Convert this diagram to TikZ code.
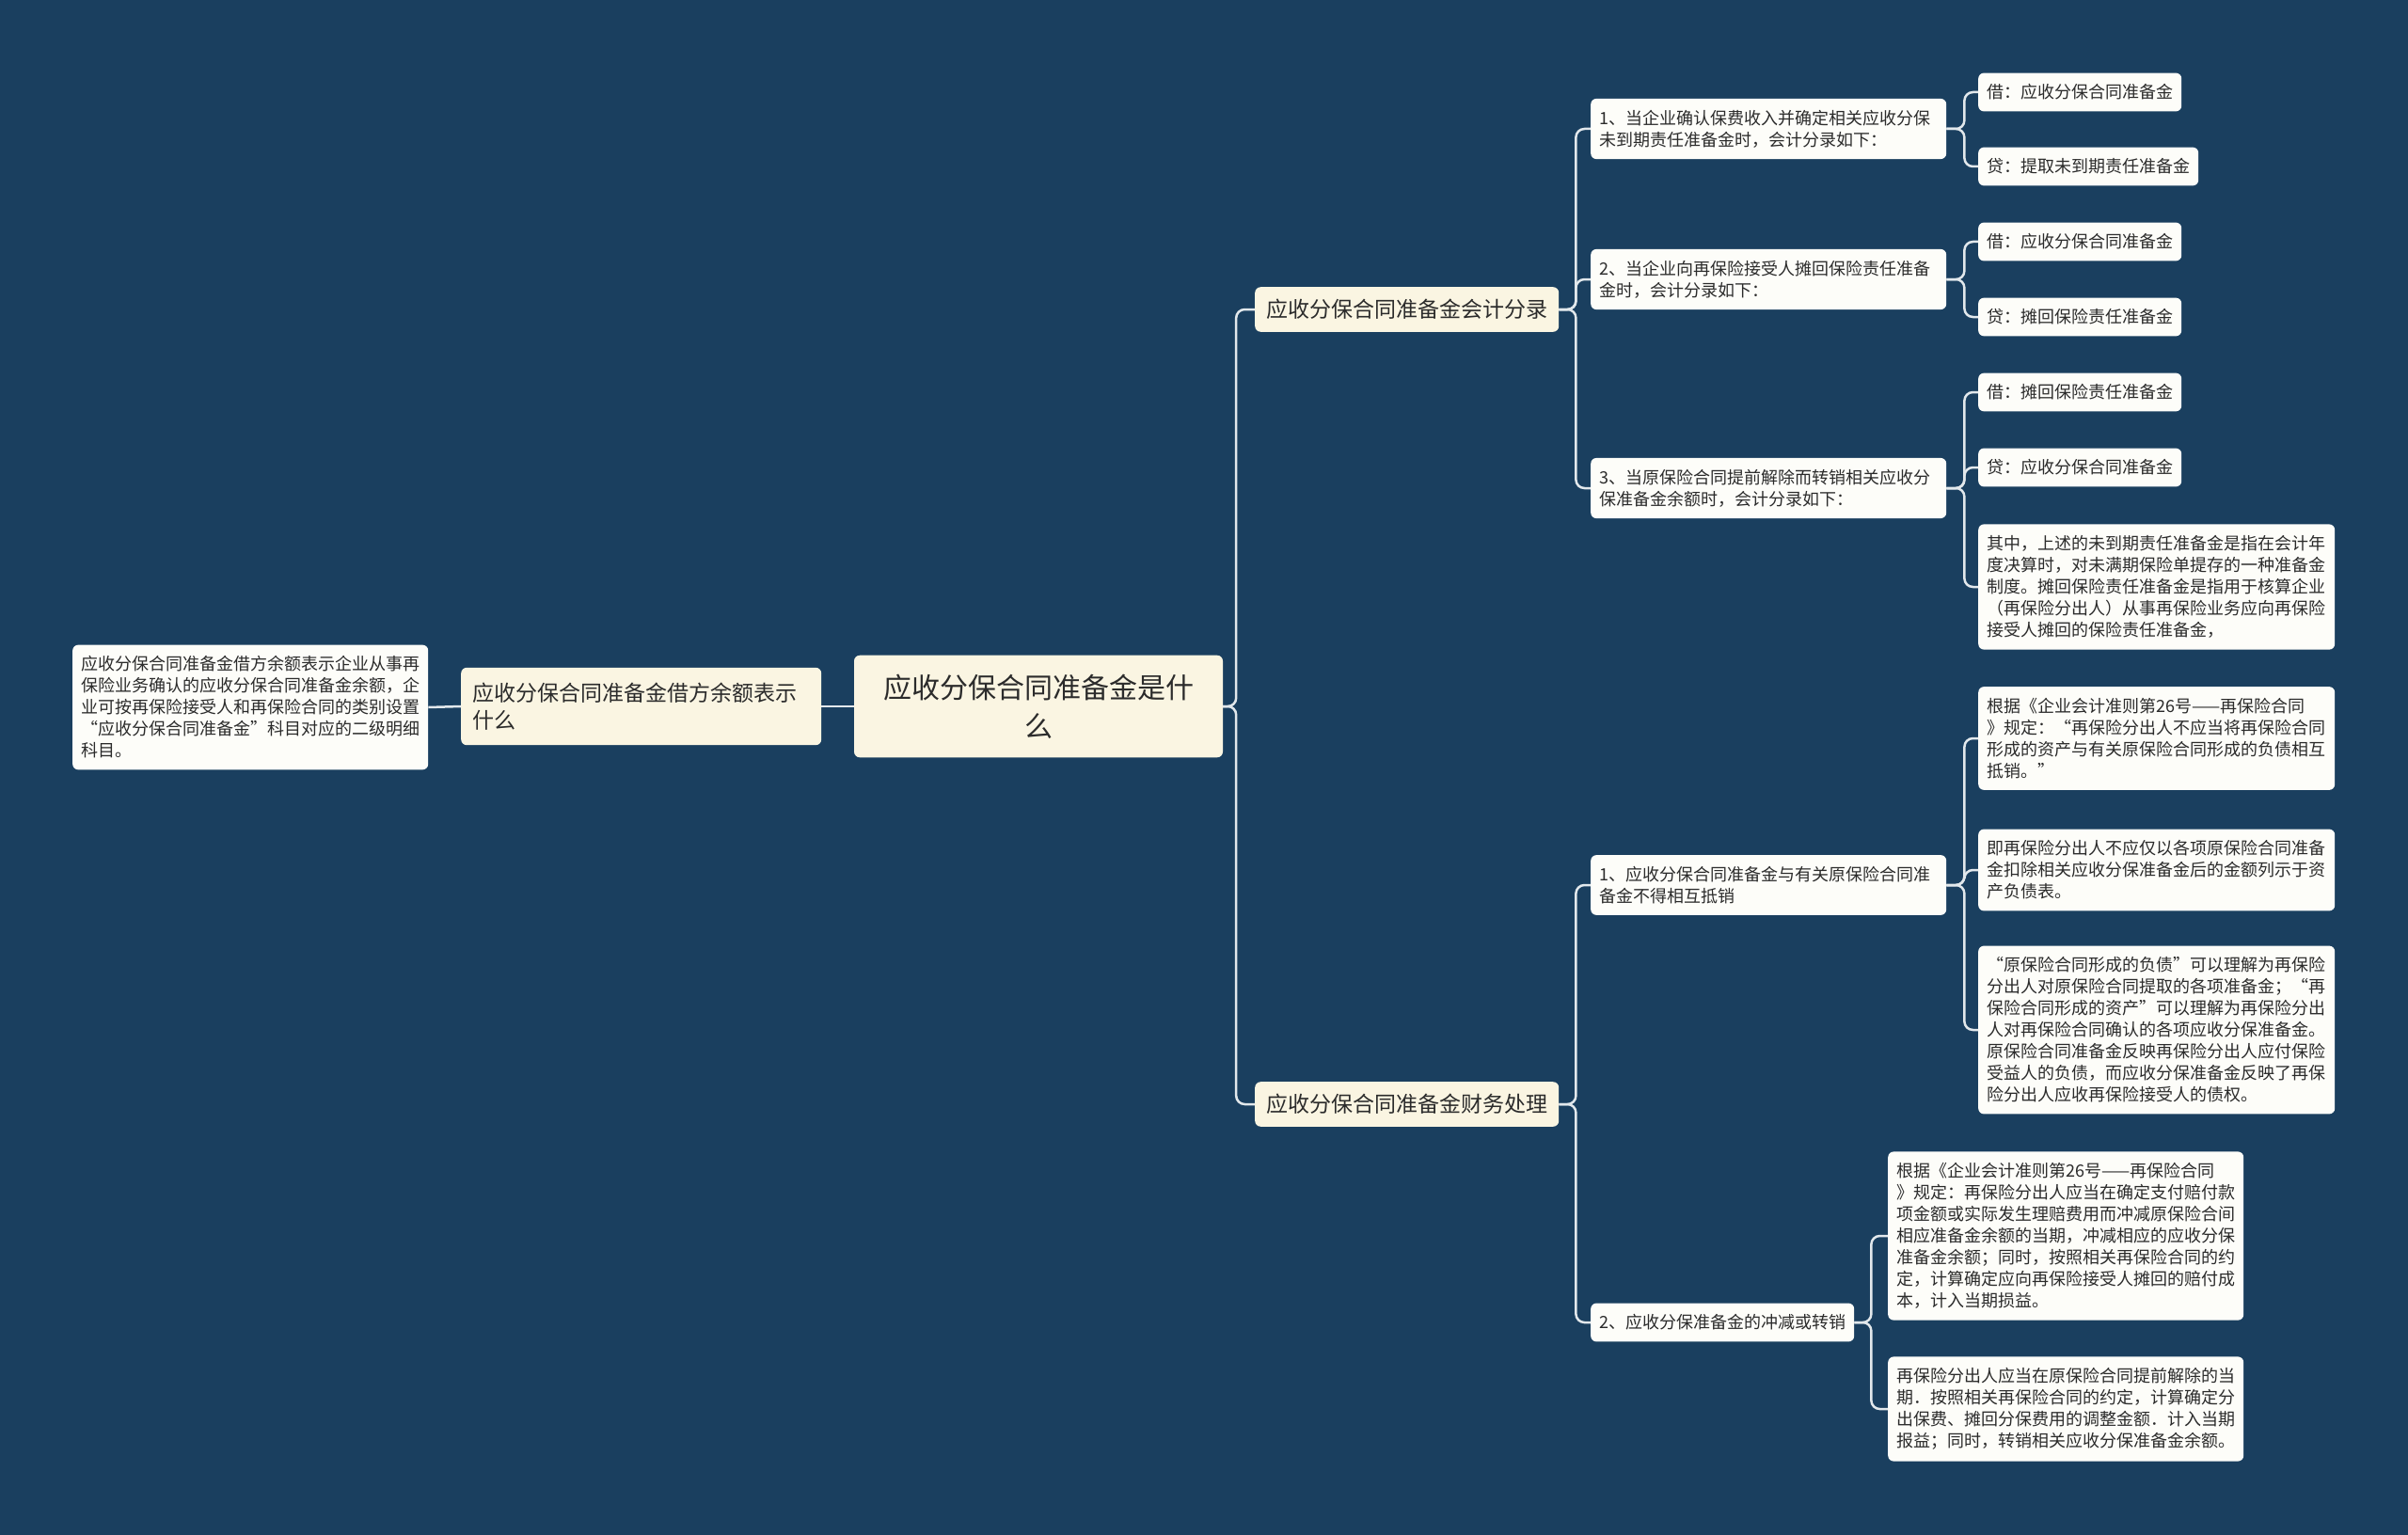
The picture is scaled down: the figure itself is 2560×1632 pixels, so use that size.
\documentclass[tikz,border=0pt]{standalone}
\usepackage{fontspec}
\setmainfont{Noto Sans CJK SC}
\usetikzlibrary{positioning}
\definecolor{bgnavy}{HTML}{1A3F5F}
\definecolor{cream}{HTML}{FAF5E2}
\definecolor{paper}{HTML}{FDFDF9}
\definecolor{ink}{HTML}{2B2B2B}
\definecolor{wire}{HTML}{E2E8EC}

\tikzset{
  basebox/.style={rounded corners=6pt, text=ink, inner xsep=9pt, inner ysep=12pt, anchor=west},
  rootbox/.style={basebox, fill=cream, font=\fontsize{30}{41}\selectfont, align=center,
    minimum width=392pt, inner ysep=20pt, anchor=center},
  mainbox/.style={basebox, fill=cream, font=\fontsize{23}{29}\selectfont, inner xsep=12pt, inner ysep=13pt},
  leafbox/.style={basebox, fill=paper, font=\fontsize{18}{23}\selectfont, align=left},
  link/.style={draw=wire, line width=2.5pt, rounded corners=9pt},
}

\begin{document}
\begin{tikzpicture}[x=1pt,y=-1pt]
  \fill[bgnavy] (0,0) rectangle (2560,1632);
  \useasboundingbox (0,0) rectangle (2560,1632);

  % centre and left branch
  \node[rootbox] (root) at (1104,751) {应收分保合同准备金是什\\么};
  \node[mainbox, align=left, text width=359pt, inner xsep=12pt, inner ysep=16pt] (q) at (490,751)
    {应收分保合同准备金借方余额表示\\什么};
  \node[leafbox, text width=360pt] (qans) at (77,752)
    {应收分保合同准备金借方余额表示企业从事再\\保险业务确认的应收分保合同准备金余额，企\\业可按再保险接受人和再保险合同的类别设置\\“应收分保合同准备金”科目对应的二级明细\\科目。};

  % right branch: entries
  \node[mainbox] (rec) at (1334,329) {应收分保合同准备金会计分录};
  \node[leafbox, text width=360pt] (rec1) at (1691,137)
    {1、当企业确认保费收入并确定相关应收分保\\未到期责任准备金时，会计分录如下：};
  \node[leafbox, text width=360pt] (rec2) at (1691,297)
    {2、当企业向再保险接受人摊回保险责任准备\\金时，会计分录如下：};
  \node[leafbox, text width=360pt] (rec3) at (1691,519)
    {3、当原保险合同提前解除而转销相关应收分\\保准备金余额时，会计分录如下：};
  \node[leafbox] (rec1d) at (2103,98) {借：应收分保合同准备金};
  \node[leafbox] (rec1c) at (2103,177) {贷：提取未到期责任准备金};
  \node[leafbox] (rec2d) at (2103,257) {借：应收分保合同准备金};
  \node[leafbox] (rec2c) at (2103,337) {贷：摊回保险责任准备金};
  \node[leafbox] (rec3d) at (2103,417) {借：摊回保险责任准备金};
  \node[leafbox] (rec3c) at (2103,497) {贷：应收分保合同准备金};
  \node[leafbox, text width=361pt] (rec3n) at (2103,624)
    {其中，上述的未到期责任准备金是指在会计年\\度决算时，对未满期保险单提存的一种准备金\\制度。摊回保险责任准备金是指用于核算企业\\（再保险分出人）从事再保险业务应向再保险\\接受人摊回的保险责任准备金，};

  % right branch: treatment
  \node[mainbox] (proc) at (1334,1174) {应收分保合同准备金财务处理};
  \node[leafbox, text width=360pt] (proc1) at (1691,941)
    {1、应收分保合同准备金与有关原保险合同准\\备金不得相互抵销};
  \node[leafbox] (proc2) at (1691,1406) {2、应收分保准备金的冲减或转销};
  \node[leafbox, text width=361pt] (proc1a) at (2103,785)
    {根据《企业会计准则第26号——再保险合同\\》规定：“再保险分出人不应当将再保险合同\\形成的资产与有关原保险合同形成的负债相互\\抵销。”};
  \node[leafbox, text width=361pt] (proc1b) at (2103,925)
    {即再保险分出人不应仅以各项原保险合同准备\\金扣除相关应收分保准备金后的金额列示于资\\产负债表。};
  \node[leafbox, text width=361pt] (proc1c) at (2103,1095)
    {“原保险合同形成的负债”可以理解为再保险\\分出人对原保险合同提取的各项准备金；“再\\保险合同形成的资产”可以理解为再保险分出\\人对再保险合同确认的各项应收分保准备金。\\原保险合同准备金反映再保险分出人应付保险\\受益人的负债，而应收分保准备金反映了再保\\险分出人应收再保险接受人的债权。};
  \node[leafbox, text width=360pt] (proc2a) at (2007,1314)
    {根据《企业会计准则第26号——再保险合同\\》规定：再保险分出人应当在确定支付赔付款\\项金额或实际发生理赔费用而冲减原保险合间\\相应准备金余额的当期，冲减相应的应收分保\\准备金余额；同时，按照相关再保险合同的约\\定，计算确定应向再保险接受人摊回的赔付成\\本，计入当期损益。};
  \node[leafbox, text width=360pt] (proc2b) at (2007,1498)
    {再保险分出人应当在原保险合同提前解除的当\\期．按照相关再保险合同的约定，计算确定分\\出保费、摊回分保费用的调整金额．计入当期\\报益；同时，转销相关应收分保准备金余额。};

  % connectors
  \draw[link] (root.west) -- (q.east);
  \draw[link] (q.west) -- (qans.east);
  \foreach \c in {rec,proc} \draw[link] (root.east) -- ++(14,0) |- (\c.west);
  \foreach \c in {rec1,rec2,rec3} \draw[link] (rec.east) -- ++(18,0) |- (\c.west);
  \foreach \c in {rec1d,rec1c} \draw[link] (rec1.east) -- ++(19,0) |- (\c.west);
  \foreach \c in {rec2d,rec2c} \draw[link] (rec2.east) -- ++(19,0) |- (\c.west);
  \foreach \c in {rec3d,rec3c,rec3n} \draw[link] (rec3.east) -- ++(19,0) |- (\c.west);
  \foreach \c in {proc1,proc2} \draw[link] (proc.east) -- ++(18,0) |- (\c.west);
  \foreach \c in {proc1a,proc1b,proc1c} \draw[link] (proc1.east) -- ++(19,0) |- (\c.west);
  \foreach \c in {proc2a,proc2b} \draw[link] (proc2.east) -- ++(18,0) |- (\c.west);
\end{tikzpicture}
\end{document}
